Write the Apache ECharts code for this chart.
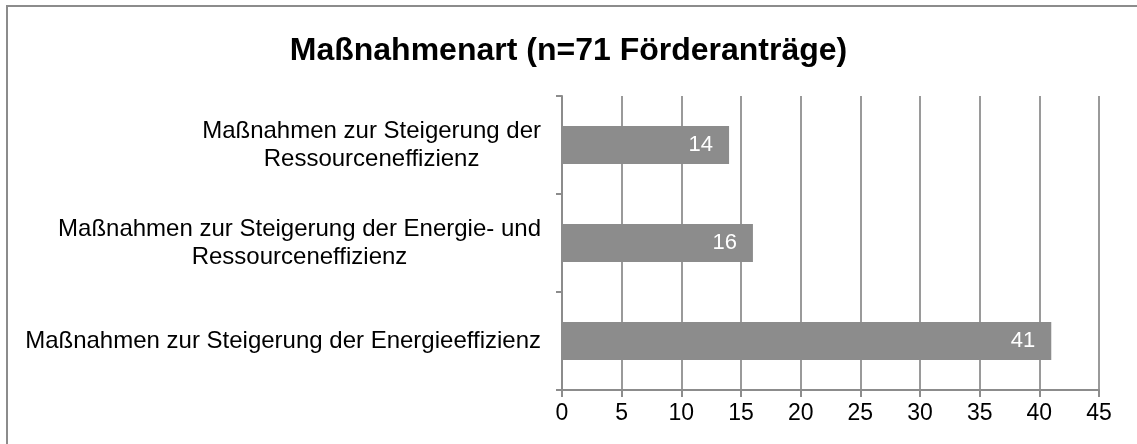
<!DOCTYPE html>
<html>
<head>
<meta charset="utf-8">
<script src="https://cdn.jsdelivr.net/npm/echarts@6/dist/echarts.min.js"></script>
<style>
  html, body { margin: 0; padding: 0; background: #fff; }
  #chart { width: 1137px; height: 444px; }
</style>
</head>
<body>
<div id="chart"></div>
<script>
// Daten
const categories = [
  'Maßnahmen zur Steigerung der\nRessourceneffizienz',
  'Maßnahmen zur Steigerung der Energie- und\nRessourceneffizienz',
  'Maßnahmen zur Steigerung der Energieeffizienz'
]
const antraege = [14, 16, 41]
const xTicks = [0, 5, 10, 15, 20, 25, 30, 35, 40, 45]

const myChart = echarts.init(document.getElementById('chart'))

const option = {
  backgroundColor: '#fff',
  animation: false,
  textStyle: { fontFamily: 'Liberation Sans, Arial, sans-serif' },
  title: {
    text: 'Maßnahmenart (n=71 Förderanträge)',
    left: 'center',
    top: 30,
    textStyle: {
      fontSize: 32,
      fontWeight: 'bold',
      color: '#000',
      fontFamily: 'Liberation Sans, Arial, sans-serif'
    }
  },
  // Rahmen
  graphic: [{
    type: 'rect',
    shape: { x: 7, y: 6, width: 1140, height: 450 },
    style: { fill: 'none', stroke: '#8c8c8c', lineWidth: 2 },
    silent: true
  }],
  grid: { left: 562, right: 38, top: 96, bottom: 54 },
  xAxis: {
    type: 'value',
    min: xTicks[0],
    max: xTicks[xTicks.length - 1],
    interval: 5,
    axisLine: { show: true, lineStyle: { color: '#8c8c8c', width: 2 } },
    axisTick: { show: true, length: 7, lineStyle: { color: '#8c8c8c', width: 2 } },
    axisLabel: { color: '#000', fontSize: 23, margin: 12 },
    splitLine: { show: true, lineStyle: { color: '#9a9a9a', width: 2 } }
  },
  yAxis: {
    type: 'category',
    inverse: true,
    data: categories,
    axisLine: { show: true, lineStyle: { color: '#8c8c8c', width: 2 } },
    axisTick: { show: true, length: 6, lineStyle: { color: '#8c8c8c', width: 2 } },
    axisLabel: {
      color: '#000',
      fontSize: 24,
      margin: 21,
      align: 'right',
      formatter: function (val) {
        return val.split('\n').map(l => '{c|' + l + '}').join('\n')
      },
      rich: {
        c: { align: 'center', fontSize: 24, lineHeight: 28, color: '#000' }
      }
    },
    splitLine: { show: false }
  },
  series: [{
    type: 'bar',
    data: antraege,
    barWidth: 38,
    itemStyle: { color: '#8c8c8c' },
    label: {
      show: true,
      position: 'insideRight',
      distance: 16,
      color: '#fff',
      fontSize: 22
    }
  }]
}

myChart.setOption(option)
window.addEventListener('resize', myChart.resize)
</script>
</body>
</html>
